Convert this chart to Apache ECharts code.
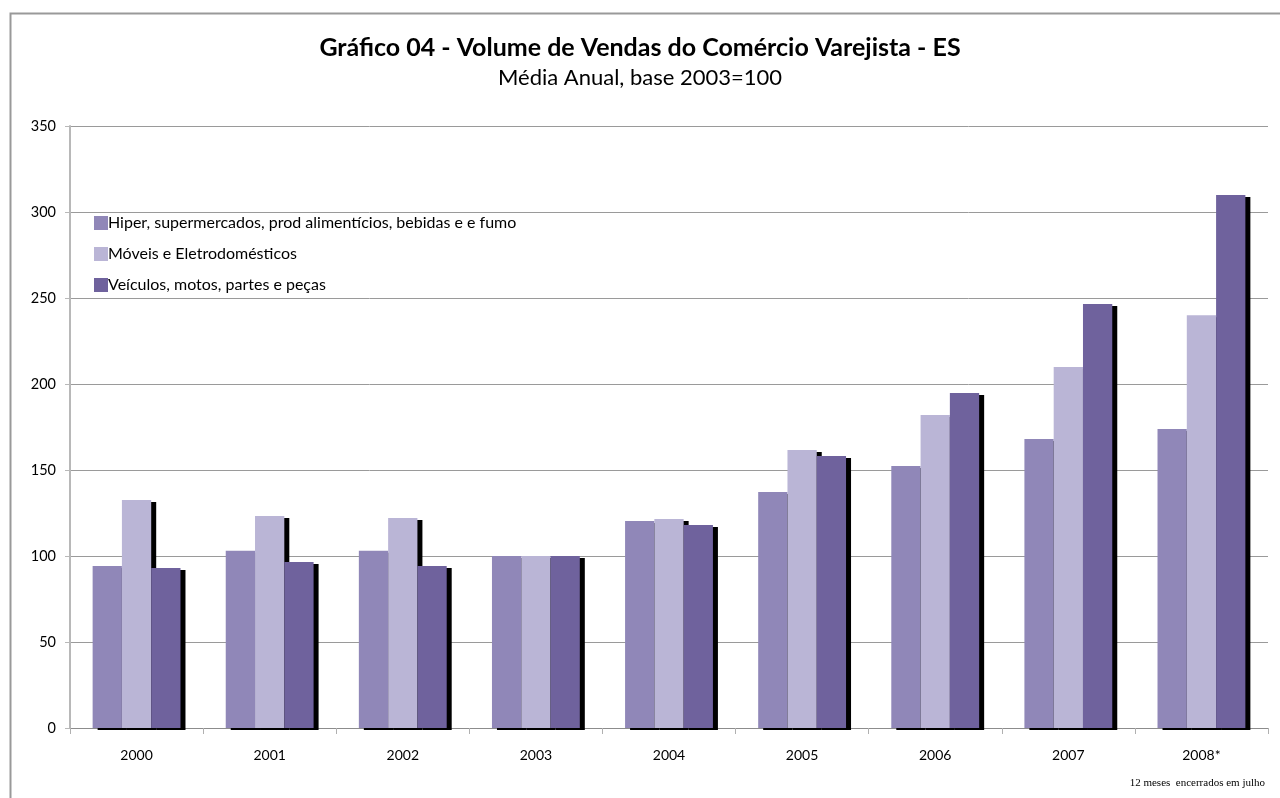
<!DOCTYPE html>
<html>
<head>
<meta charset="utf-8">
<script src="https://cdn.jsdelivr.net/npm/echarts@6/dist/echarts.min.js"></script>
<style>
html,body{margin:0;padding:0;background:#fff;}
#chart{width:1280px;height:798px;}
</style>
</head>
<body>
<div id="chart"></div>
<script>
const categories = ['2000','2001','2002','2003','2004','2005','2006','2007','2008*'];
const seriesNames = [
  'Hiper, supermercados, prod alimentícios, bebidas e e fumo',
  'Móveis e Eletrodomésticos',
  'Veículos, motos, partes e peças'
];
const hiperValues   = [94.2, 103.0, 103.0, 100, 120.3, 137.2, 152.3, 168.0, 173.8];
const moveisValues  = [132.6, 123.3, 122.1, 100, 121.5, 161.6, 182.0, 209.9, 240.0];
const veiculosValues= [93.0, 96.5, 94.2, 100, 118.0, 158.1, 194.8, 246.5, 309.9];
const yTicks = [0, 50, 100, 150, 200, 250, 300, 350];
const colors = ['#9087B8', '#BAB5D6', '#6F629D'];

const FONT = 'Lato, "Open Sans", sans-serif';
const chart = echarts.init(document.getElementById('chart'), null, {renderer: 'canvas'});
const dataSets = [hiperValues, moveisValues, veiculosValues];

chart.setOption({
  animation: false,
  backgroundColor: '#ffffff',
  title: {
    text: 'Gráfico 04 - Volume de Vendas do Comércio Varejista - ES',
    subtext: 'Média Anual, base 2003=100',
    left: 'center',
    top: 30,
    itemGap: 7,
    textStyle: {fontFamily: FONT, fontSize: 25, fontWeight: 'bold', color: '#000'},
    subtextStyle: {fontFamily: FONT, fontSize: 22, color: '#000'}
  },
  legend: {
    orient: 'vertical',
    left: 89,
    top: 210,
    itemGap: 15,
    itemWidth: 14,
    itemHeight: 14,
    icon: 'rect',
    data: seriesNames,
    textStyle: {fontFamily: FONT, fontSize: 16, color: '#000', padding: [0,0,0,-5]},
    itemStyle: {shadowColor: 'rgba(0,0,0,0)', shadowBlur: 0, shadowOffsetX: 0, shadowOffsetY: 0}
  },
  grid: {left: 70, right: 12, top: 126, bottom: 70, containLabel: false},
  xAxis: {
    type: 'category',
    data: categories,
    axisLine: {lineStyle: {color: '#8c8c8c', width: 1}},
    axisTick: {show: true, length: 6, lineStyle: {color: '#b0b0b0'}},
    axisLabel: {fontFamily: FONT, fontSize: 14, color: '#000', margin: 20}
  },
  yAxis: {
    type: 'value',
    min: yTicks[0],
    max: yTicks[yTicks.length - 1],
    interval: 50,
    axisLine: {show: true, lineStyle: {color: '#b8b8b8', width: 2}},
    axisTick: {show: true, length: 5, lineStyle: {color: '#b8b8b8'}},
    axisLabel: {fontFamily: FONT, fontSize: 14.5, color: '#000', margin: 14},
    splitLine: {lineStyle: {color: '#9a9a9a', width: 1}}
  },
  graphic: [
    {
      type: 'rect',
      left: 8, top: 11,
      shape: {x: 0, y: 0, width: 1400, height: 900},
      style: {fill: 'none', stroke: '#999999', lineWidth: 2},
      silent: true, z: -1
    },
    {
      type: 'text',
      right: 15, top: 778,
      style: {text: '12 meses  encerrados em julho', font: '11px "Liberation Serif", serif', fill: '#000'}
    }
  ],
  series: seriesNames.map((name, i) => ({
    name: name,
    type: 'bar',
    data: dataSets[i],
    barGap: '0%',
    barCategoryGap: '34%',
    itemStyle: {
      color: colors[i],
      shadowColor: '#000000',
      shadowBlur: 0,
      shadowOffsetX: 5,
      shadowOffsetY: 2
    },
    emphasis: {disabled: true}
  }))
});
</script>
</body>
</html>
